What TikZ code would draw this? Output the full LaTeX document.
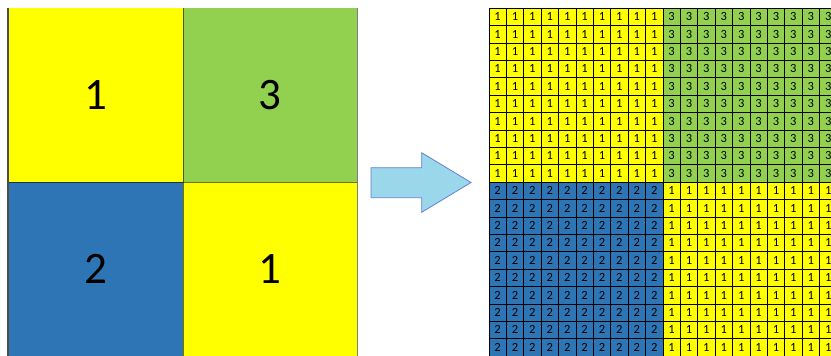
\documentclass[tikz,border=0pt]{standalone}
\usepackage{fontspec}
\setmainfont{Carlito}
\definecolor{cyel}{RGB}{255,255,0}
\definecolor{cgrn}{RGB}{146,208,80}
\definecolor{cblu}{RGB}{46,117,182}
\definecolor{arrfill}{RGB}{155,215,234}
\definecolor{arrline}{RGB}{100,128,212}
\begin{document}
\begin{tikzpicture}[x=1pt,y=-1pt,
 bigcell/.style={minimum height=174pt,inner sep=0pt,outer sep=0pt,font=\fontsize{45}{50}\selectfont},
 smallcell/.style={draw=black,line width=0.6pt,minimum width=17.4pt,minimum height=17.4pt,inner sep=0pt,outer sep=0pt,font=\fontsize{12.5}{13}\selectfont},
 divline/.style={draw=black,draw opacity=0.55,line width=1pt},
 edgeline/.style={draw=black!70,line width=1.2pt}]
\useasboundingbox (0,0) rectangle (831,356);
\clip (0,0) rectangle (831,356);
% left 2x2 grid
\node[bigcell,minimum width=175pt,fill=cyel] (q1) at (95.5,95) {1};
\node[bigcell,minimum width=174pt,fill=cgrn] (q3) at (270,95) {3};
\node[bigcell,minimum width=175pt,fill=cblu] (q2) at (95.5,269) {2};
\node[bigcell,minimum width=174pt,fill=cyel] (q4) at (270,269) {1};
\draw[divline] (q1.north east) -- (q2.south east);
\draw[divline] (q1.south west) -- (q3.south east);
\draw[edgeline] (q1.north west) -- (q2.south west);
\draw[draw=black!50,line width=0.6pt] (q3.north east) -- (q4.south east);
% arrow
\draw[draw=arrline,fill=arrfill,line width=0.8pt,line join=miter]
  (371,167.7) -- (421.7,167.7) -- (421.7,152.7) -- (471,182.5) --
  (421.7,212.3) -- (421.7,197.7) -- (371,197.7) -- cycle;
% right fine grid
\foreach \i in {0,...,9}{\foreach \j in {0,...,9}{
  \node[smallcell,fill=cyel] (a-\i-\j) at ({497.6+17.4*\i},{16.7+17.4*\j}) {1};}}
\foreach \i in {10,...,19}{\foreach \j in {0,...,9}{
  \node[smallcell,fill=cgrn] (a-\i-\j) at ({497.6+17.4*\i},{16.7+17.4*\j}) {3};}}
\foreach \i in {0,...,9}{\foreach \j in {10,...,19}{
  \node[smallcell,fill=cblu] (a-\i-\j) at ({497.6+17.4*\i},{16.7+17.4*\j}) {2};}}
\foreach \i in {10,...,19}{\foreach \j in {10,...,19}{
  \node[smallcell,fill=cyel] (a-\i-\j) at ({497.6+17.4*\i},{16.7+17.4*\j}) {1};}}
\end{tikzpicture}
\end{document}
